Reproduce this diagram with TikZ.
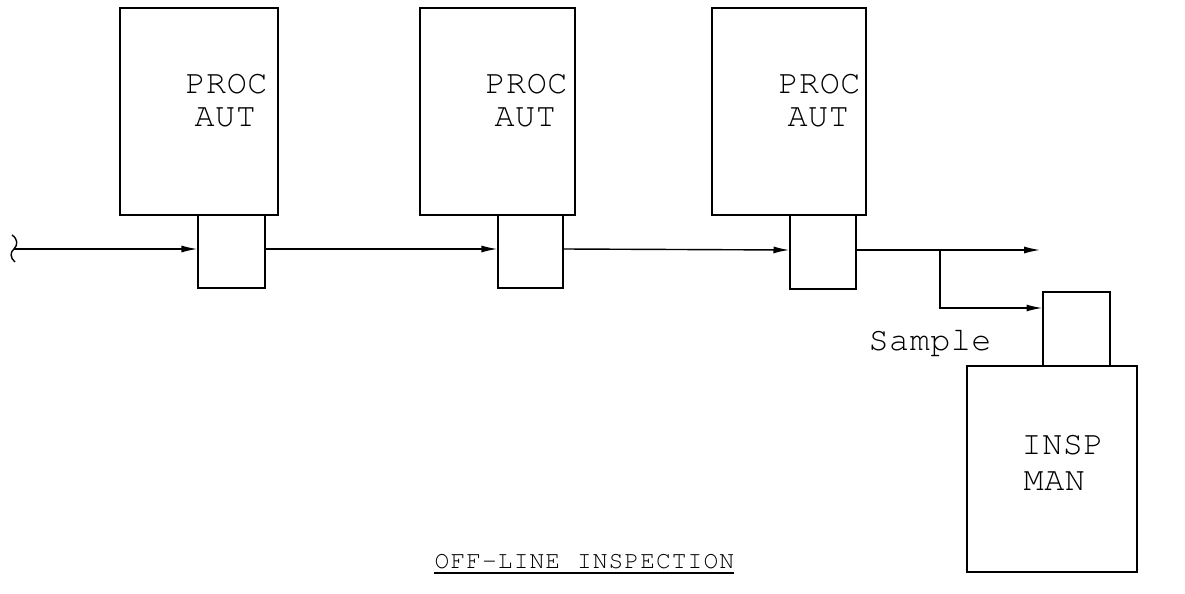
\documentclass[tikz,border=0pt]{standalone}
\usepackage{fontspec}
\newfontfamily\typew{texgyrecursor-regular.otf}
\usetikzlibrary{arrows.meta,calc}
% letter-spaced typewriter text
\newdimen\lsp
\def\spc#1{\spcA#1\relax}
\def\spcA#1{\ifx#1\relax\else#1\kern\lsp\expandafter\spcA\fi}
\newcommand{\lblfont}[2]{\typew\fontsize{#1}{#1}\selectfont\lsp=#2}
\tikzset{
  boxwh/.style 2 args={draw, inner sep=0pt, minimum width=#1*0.02cm, minimum height=#2*0.02cm},
  arr/.style={-{Latex[length=9pt,width=4pt]}},
  lbl/.style={inner sep=0pt, anchor=base west, font=\lblfont{19pt}{0.3pt}},
}
\begin{document}
\begin{tikzpicture}[x=0.02cm, y=-0.02cm, line width=0.8pt]
\useasboundingbox (0,0) rectangle (1185,594);
% big process boxes
\node[boxwh={158}{207}] (b1) at (199,111.5) {};
\node[boxwh={155}{207}] (b2) at (497.5,111.5) {};
\node[boxwh={154}{207}] (b3) at (789,111.5) {};
% small station boxes
\node[boxwh={67}{73}] (s1) at (231.5,251.5) {};
\node[boxwh={65}{73}] (s2) at (530.5,251.5) {};
\node[boxwh={66}{74}] (s3) at (823,252) {};
% inspection
\node[boxwh={67}{74}] (s4) at (1076.5,329) {};
\node[boxwh={170}{206}] (b4) at (1052,469) {};
% labels
\node[lbl] (p1) at (185,94) {\spc{PROC}};
\node[lbl] (a1) at (194,127) {\spc{AUT}};
\node[lbl] (p2) at (485,94) {\spc{PROC}};
\node[lbl] (a2) at (494,127) {\spc{AUT}};
\node[lbl] (p3) at (778,94) {\spc{PROC}};
\node[lbl] (a3) at (787,127) {\spc{AUT}};
\node[lbl] (i1) at (1021,454) {\spc{INSP}};
\node[lbl] (m1) at (1023,490) {\spc{MAN}};
\node[lbl] (smp) at (868,350) {\spc{Sample}};
\node[inner sep=0pt, anchor=base west, font=\lblfont{14pt}{0.6pt}] (title) at (434,568) {\spc{OFF-LINE\ INSPECTION}};
\draw ($(title.base west)+(0,5)$) -- ($(title.base east)+(-2,5)$);
% flow line
\coordinate (src) at (14,249);
\coordinate (out) at (1040,250);
\coordinate (br) at (940,250);
\coordinate (brd) at (940,308);
\draw (12,235) .. controls (18,239) and (18,245) .. (src) .. controls (10,252) and (10,258) .. (15,262);
\draw[arr] (src) -- (src -| s1.west);
\draw[arr] (s1.east |- src) -- (s2.west |- src);
\draw[arr] (s2.east |- src) -- (s3.west |- br);
\draw[arr] (s3.east |- br) -- (out);
\draw[arr] (br) -- (brd) -- (brd -| s4.west);
\end{tikzpicture}
\end{document}
